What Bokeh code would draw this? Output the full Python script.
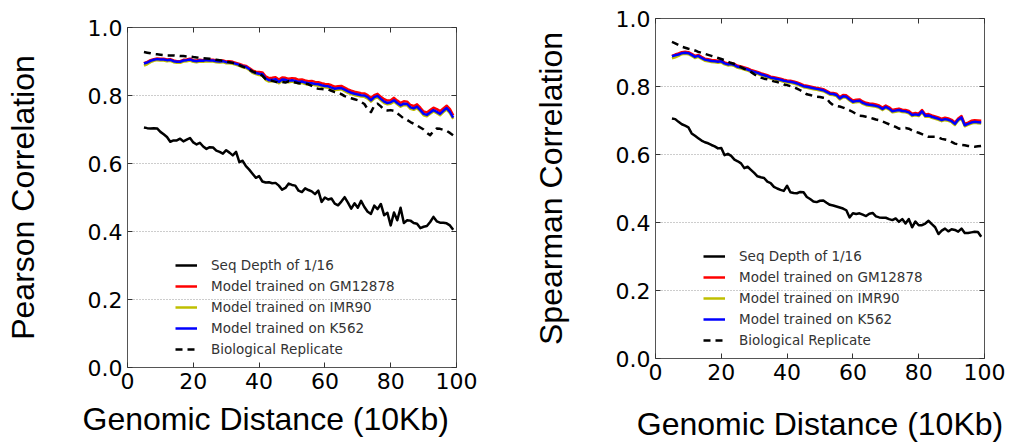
from bokeh.plotting import figure
from bokeh.layouts import row, column
from bokeh.models import (LinearAxis, FixedTicker, NumeralTickFormatter, Legend,
                          LegendItem, Range1d, ColumnDataSource, Title)
from bokeh.embed import file_html
from bokeh.resources import INLINE

# ---------------- data ----------------
distance = list(range(5, 100))  # genomic distance (10Kb), 5..99

x_ticks = [0, 20, 40, 60, 80, 100]
y_ticks = [0.0, 0.2, 0.4, 0.6, 0.8, 1.0]

x_label = "Genomic Distance (10Kb)"
series_names = ["Seq Depth of 1/16", "Model trained on GM12878",
                "Model trained on IMR90", "Model trained on K562",
                "Biological Replicate"]

# Pearson panel
pearson_seq = [0.706, 0.704, 0.703, 0.704, 0.703, 0.693, 0.686, 0.678, 0.664, 0.668,
               0.668, 0.673, 0.665, 0.670, 0.675, 0.662, 0.656, 0.661, 0.650, 0.643,
               0.648, 0.647, 0.638, 0.634, 0.629, 0.639, 0.632, 0.624, 0.634, 0.604,
               0.608, 0.592, 0.582, 0.570, 0.558, 0.563, 0.547, 0.544, 0.545, 0.542,
               0.543, 0.535, 0.523, 0.528, 0.541, 0.537, 0.535, 0.520, 0.516, 0.527,
               0.522, 0.518, 0.510, 0.520, 0.487, 0.500, 0.494, 0.497, 0.482, 0.477,
               0.488, 0.501, 0.485, 0.467, 0.483, 0.470, 0.490, 0.472, 0.458, 0.452,
               0.476, 0.466, 0.481, 0.448, 0.455, 0.418, 0.456, 0.433, 0.470, 0.425,
               0.433, 0.432, 0.425, 0.423, 0.410, 0.414, 0.416, 0.428, 0.443, 0.430,
               0.426, 0.426, 0.424, 0.418, 0.405]
pearson_gm12878 = [0.895, 0.899, 0.904, 0.907, 0.909, 0.908, 0.908, 0.906, 0.907, 0.903,
                   0.901, 0.901, 0.905, 0.906, 0.908, 0.904, 0.903, 0.905, 0.904, 0.906,
                   0.905, 0.905, 0.903, 0.902, 0.903, 0.900, 0.901, 0.899, 0.896, 0.893,
                   0.889, 0.887, 0.881, 0.874, 0.870,
                   0.869, 0.868, 0.856, 0.851, 0.852, 0.854, 0.847, 0.853, 0.852, 0.849,
                   0.851, 0.850, 0.846, 0.847, 0.844, 0.842, 0.843, 0.840, 0.839, 0.836,
                   0.834, 0.833, 0.830, 0.826, 0.827, 0.828, 0.823, 0.818, 0.814, 0.811,
                   0.809, 0.807, 0.806, 0.801, 0.793, 0.801, 0.805, 0.796, 0.789, 0.785,
                   0.786, 0.793, 0.785, 0.778, 0.783, 0.782, 0.772, 0.769, 0.774, 0.764,
                   0.753, 0.750, 0.757, 0.764, 0.760, 0.754, 0.762, 0.770, 0.760, 0.742]
pearson_imr90 = [0.888, 0.892, 0.898, 0.902, 0.904, 0.903, 0.903, 0.901, 0.902, 0.898,
                 0.896, 0.896, 0.900, 0.901, 0.903, 0.899, 0.898, 0.900, 0.899, 0.901,
                 0.900, 0.900, 0.898, 0.897, 0.898, 0.895, 0.895, 0.893, 0.890, 0.887,
                 0.883, 0.881, 0.875, 0.867, 0.863,
                 0.860, 0.859, 0.846, 0.841, 0.842, 0.844, 0.836, 0.843, 0.842, 0.839,
                 0.841, 0.839, 0.836, 0.837, 0.834, 0.832, 0.832, 0.830, 0.829, 0.826,
                 0.824, 0.823, 0.819, 0.816, 0.817, 0.818, 0.813, 0.808, 0.804, 0.801,
                 0.799, 0.797, 0.796, 0.791, 0.782, 0.791, 0.795, 0.786, 0.778, 0.774,
                 0.776, 0.782, 0.774, 0.767, 0.772, 0.771, 0.761, 0.758, 0.763, 0.753,
                 0.742, 0.739, 0.746, 0.753, 0.748, 0.742, 0.751, 0.759, 0.748, 0.731]
pearson_k562 = [0.894, 0.897, 0.902, 0.905, 0.907, 0.906, 0.906, 0.904, 0.905, 0.901,
                0.899, 0.899, 0.903, 0.904, 0.906, 0.902, 0.901, 0.903, 0.902, 0.904,
                0.903, 0.903, 0.901, 0.900, 0.901, 0.898, 0.898, 0.896, 0.893, 0.890,
                0.886, 0.884, 0.878, 0.870, 0.866,
                0.864, 0.863, 0.850, 0.845, 0.846, 0.848, 0.840, 0.847, 0.846, 0.843,
                0.845, 0.843, 0.840, 0.841, 0.838, 0.836, 0.836, 0.834, 0.833, 0.830,
                0.828, 0.827, 0.823, 0.820, 0.821, 0.822, 0.817, 0.812, 0.808, 0.805,
                0.803, 0.801, 0.800, 0.795, 0.786, 0.795, 0.799, 0.790, 0.782, 0.778,
                0.780, 0.786, 0.778, 0.771, 0.776, 0.775, 0.765, 0.762, 0.767, 0.757,
                0.746, 0.743, 0.750, 0.757, 0.752, 0.746, 0.755, 0.763, 0.752, 0.735]
pearson_bio = [0.928, 0.926, 0.924, 0.922, 0.921, 0.920, 0.919, 0.918, 0.918, 0.918,
               0.917, 0.916, 0.916, 0.915, 0.915, 0.913, 0.912, 0.911, 0.910, 0.909,
               0.908, 0.906, 0.905, 0.904, 0.902, 0.900, 0.898, 0.896, 0.893, 0.889,
               0.885, 0.881, 0.876, 0.871, 0.867, 0.864, 0.858, 0.848, 0.845, 0.843,
               0.840, 0.838, 0.840, 0.838, 0.842, 0.840, 0.838, 0.836, 0.835, 0.835,
               0.833, 0.828, 0.822, 0.820, 0.819, 0.818, 0.818, 0.814, 0.810, 0.808,
               0.804, 0.798, 0.795, 0.792, 0.789, 0.786, 0.781, 0.775, 0.760, 0.751,
               0.770, 0.776, 0.768, 0.758, 0.756, 0.757, 0.755, 0.748, 0.740, 0.732,
               0.728, 0.722, 0.717, 0.712, 0.706, 0.700, 0.690, 0.683, 0.695, 0.703,
               0.702, 0.699, 0.696, 0.690, 0.683]

# Spearman panel
spearman_seq = [0.706, 0.704, 0.696, 0.689, 0.685, 0.680, 0.662, 0.655, 0.648, 0.641,
                0.636, 0.633, 0.628, 0.624, 0.618, 0.619, 0.598, 0.602, 0.596, 0.585,
                0.580, 0.574, 0.560, 0.564, 0.555, 0.546, 0.536, 0.533, 0.531, 0.520,
                0.516, 0.505, 0.500, 0.496, 0.493, 0.508, 0.489, 0.487, 0.486, 0.490,
                0.489, 0.475, 0.469, 0.462, 0.460, 0.464, 0.465, 0.458, 0.452, 0.450,
                0.447, 0.444, 0.441, 0.436, 0.415, 0.427, 0.425, 0.427, 0.423, 0.419,
                0.426, 0.428, 0.418, 0.415, 0.414, 0.414, 0.410, 0.407, 0.412, 0.402,
                0.410, 0.397, 0.410, 0.386, 0.403, 0.392, 0.392, 0.397, 0.405, 0.395,
                0.386, 0.366, 0.376, 0.382, 0.374, 0.380, 0.378, 0.373, 0.382, 0.369,
                0.369, 0.371, 0.373, 0.372, 0.358]
spearman_gm12878 = [0.890, 0.894, 0.897, 0.901, 0.902, 0.901, 0.896, 0.890, 0.893, 0.887,
                    0.882, 0.880, 0.878, 0.877, 0.876, 0.877, 0.871, 0.868, 0.869, 0.866,
                    0.861, 0.859, 0.856, 0.853, 0.849, 0.846, 0.843, 0.839, 0.836, 0.833,
                    0.829, 0.827, 0.825, 0.823, 0.820, 0.818, 0.817, 0.815, 0.812, 0.808,
                    0.804, 0.802, 0.800, 0.798, 0.796, 0.794, 0.792, 0.787, 0.782, 0.781,
                    0.779, 0.769, 0.775, 0.774, 0.766, 0.759, 0.761, 0.762, 0.756, 0.752,
                    0.750, 0.749, 0.747, 0.744, 0.738, 0.744, 0.739, 0.731, 0.733, 0.735,
                    0.732, 0.731, 0.728, 0.720, 0.722, 0.720, 0.731, 0.718, 0.719, 0.715,
                    0.712, 0.709, 0.705, 0.708, 0.706, 0.702, 0.694, 0.706, 0.713, 0.690,
                    0.694, 0.699, 0.701, 0.700, 0.699]
spearman_imr90 = [0.883, 0.886, 0.890, 0.895, 0.896, 0.895, 0.890, 0.884, 0.887, 0.881,
                  0.876, 0.874, 0.872, 0.871, 0.870, 0.871, 0.865, 0.862, 0.863, 0.860,
                  0.855, 0.853, 0.850, 0.847, 0.843, 0.840, 0.837, 0.833, 0.830, 0.827,
                  0.823, 0.821, 0.819, 0.817, 0.814, 0.812, 0.811, 0.809, 0.806, 0.802,
                  0.798, 0.796, 0.794, 0.792, 0.790, 0.788, 0.786, 0.781, 0.776, 0.775,
                  0.772, 0.762, 0.768, 0.767, 0.759, 0.752, 0.754, 0.755, 0.749, 0.745,
                  0.743, 0.742, 0.740, 0.737, 0.731, 0.737, 0.732, 0.724, 0.726, 0.728,
                  0.725, 0.724, 0.721, 0.713, 0.715, 0.713, 0.724, 0.711, 0.712, 0.708,
                  0.705, 0.702, 0.698, 0.701, 0.699, 0.695, 0.687, 0.699, 0.706, 0.683,
                  0.687, 0.691, 0.693, 0.692, 0.691]
spearman_k562 = [0.889, 0.892, 0.894, 0.898, 0.899, 0.898, 0.893, 0.887, 0.890, 0.884,
                 0.879, 0.877, 0.875, 0.874, 0.873, 0.874, 0.868, 0.865, 0.866, 0.863,
                 0.858, 0.856, 0.853, 0.850, 0.846, 0.843, 0.840, 0.836, 0.833, 0.830,
                 0.826, 0.824, 0.822, 0.820, 0.817, 0.815, 0.814, 0.812, 0.809, 0.805,
                 0.801, 0.799, 0.797, 0.795, 0.793, 0.791, 0.789, 0.784, 0.779, 0.778,
                 0.775, 0.765, 0.771, 0.770, 0.762, 0.755, 0.757, 0.758, 0.752, 0.748,
                 0.746, 0.745, 0.743, 0.740, 0.734, 0.740, 0.735, 0.727, 0.729, 0.731,
                 0.728, 0.727, 0.724, 0.716, 0.718, 0.716, 0.727, 0.714, 0.715, 0.711,
                 0.708, 0.705, 0.701, 0.704, 0.702, 0.698, 0.690, 0.702, 0.709, 0.686,
                 0.690, 0.694, 0.696, 0.695, 0.694]
spearman_bio = [0.931, 0.927, 0.922, 0.917, 0.914, 0.911, 0.909, 0.906, 0.902, 0.899,
                0.896, 0.893, 0.890, 0.887, 0.884, 0.881, 0.877, 0.873, 0.869, 0.866,
                0.861, 0.857, 0.852, 0.848, 0.843, 0.836, 0.830, 0.826, 0.823, 0.821,
                0.818, 0.815, 0.813, 0.810, 0.806, 0.804, 0.801, 0.798, 0.794, 0.789,
                0.783, 0.777, 0.775, 0.772, 0.770, 0.769, 0.767, 0.765, 0.753, 0.745,
                0.743, 0.741, 0.738, 0.734, 0.730, 0.725, 0.719, 0.714, 0.713, 0.711,
                0.709, 0.706, 0.703, 0.701, 0.697, 0.693, 0.689, 0.685, 0.681, 0.676,
                0.677, 0.678, 0.676, 0.671, 0.667, 0.664, 0.660, 0.656, 0.652, 0.652,
                0.652, 0.650, 0.646, 0.644, 0.642, 0.637, 0.632, 0.630, 0.628, 0.627,
                0.625, 0.624, 0.623, 0.624, 0.625]

# ---------------- styling ----------------
COLORS = ["black", "#ff0000", "#bfbf00", "#0000ff", "black"]
DASHES = ["solid", "solid", "solid", "solid", "7 5"]
TICK_FONT = "DejaVu Sans"
LABEL_FONT = "Liberation Sans"


def make_panel(ylabel, series, width, height, b_left, b_right, b_top, b_bottom,
               use_title, xlabel_offset, xlabel_standoff):
    p = figure(width=width, height=height, output_backend="svg", toolbar_location=None,
               x_range=Range1d(0, 100), y_range=Range1d(0, 1),
               min_border_left=b_left, min_border_right=b_right,
               min_border_top=b_top, min_border_bottom=b_bottom,
               y_axis_label=ylabel)
    p.background_fill_color = "white"
    p.border_fill_color = "white"
    p.outline_line_color = "#555555"
    p.outline_line_width = 1

    bottom_axis = p.below[0]
    left_axis = p.left[0]

    # bottom / left axes
    for ax, ticks in ((bottom_axis, x_ticks), (left_axis, y_ticks)):
        ax.ticker = FixedTicker(ticks=ticks)
        ax.major_tick_in = 5
        ax.major_tick_out = 0
        ax.minor_tick_line_color = None
        ax.axis_line_color = None
        ax.major_tick_line_color = "#333333"
        ax.major_label_text_font = TICK_FONT
        ax.major_label_text_font_size = "22px"
        ax.major_label_text_color = "black"
        ax.axis_label_text_font = LABEL_FONT
        ax.axis_label_text_font_size = "32px"
        ax.axis_label_text_font_style = "normal"
        ax.axis_label_text_color = "black"
    left_axis.formatter = NumeralTickFormatter(format="0.0")
    left_axis.major_label_standoff = 5
    left_axis.axis_label_standoff = 44
    bottom_axis.major_label_standoff = 5

    # x-axis title
    if use_title:
        p.add_layout(Title(text=x_label, align="left", offset=xlabel_offset,
                           standoff=xlabel_standoff, text_font=LABEL_FONT,
                           text_font_size="32px", text_font_style="normal",
                           text_color="black"), "below")
    else:
        bottom_axis.axis_label = x_label
        bottom_axis.axis_label_standoff = xlabel_standoff

    # top / right tick-only axes (labels not painted)
    for loc, ticks in (("above", x_ticks), ("right", y_ticks)):
        ax = LinearAxis(ticker=FixedTicker(ticks=ticks), major_tick_in=5, major_tick_out=0,
                        minor_tick_line_color=None, axis_line_color=None,
                        major_tick_line_color="#333333",
                        major_label_text_font_size="6px", major_label_text_color=None,
                        major_label_standoff=0)
        p.add_layout(ax, loc)

    # grid
    p.xgrid.visible = False
    p.ygrid.ticker = FixedTicker(ticks=y_ticks)
    p.ygrid.grid_line_color = "#9a9a9a"
    p.ygrid.grid_line_dash = "1 2"
    p.ygrid.grid_line_width = 1

    items = []
    for name, vals, color, dash in zip(series_names, series, COLORS, DASHES):
        src = ColumnDataSource(dict(x=distance, y=vals))
        r = p.line("x", "y", source=src, line_color=color, line_width=2.5,
                   line_dash=dash, line_join="round")
        items.append(LegendItem(label=name, renderers=[r]))

    legend = Legend(items=items, location=(48, 8), border_line_color=None,
                    background_fill_alpha=0, padding=0, margin=0, spacing=1,
                    label_height=20, glyph_height=20, glyph_width=22,
                    label_standoff=14, label_text_font=TICK_FONT,
                    label_text_font_size="13.5px", label_text_color="#333333")
    p.add_layout(legend, "center")
    return p


p1 = make_panel("Pearson Correlation",
                [pearson_seq, pearson_gm12878, pearson_imr90, pearson_k562, pearson_bio],
                500, 444, 127, 44, 27, 77, True, -45, 15)
p2 = make_panel("Spearman Correlation",
                [spearman_seq, spearman_gm12878, spearman_imr90, spearman_k562, spearman_bio],
                509, 444, 155, 25, 18, 86, False, 0, 23)

# each panel sits in its own column so the two frames keep their own offsets
layout = row(column(p1), column(p2))
open("out.html", "w").write(file_html(layout, INLINE))
